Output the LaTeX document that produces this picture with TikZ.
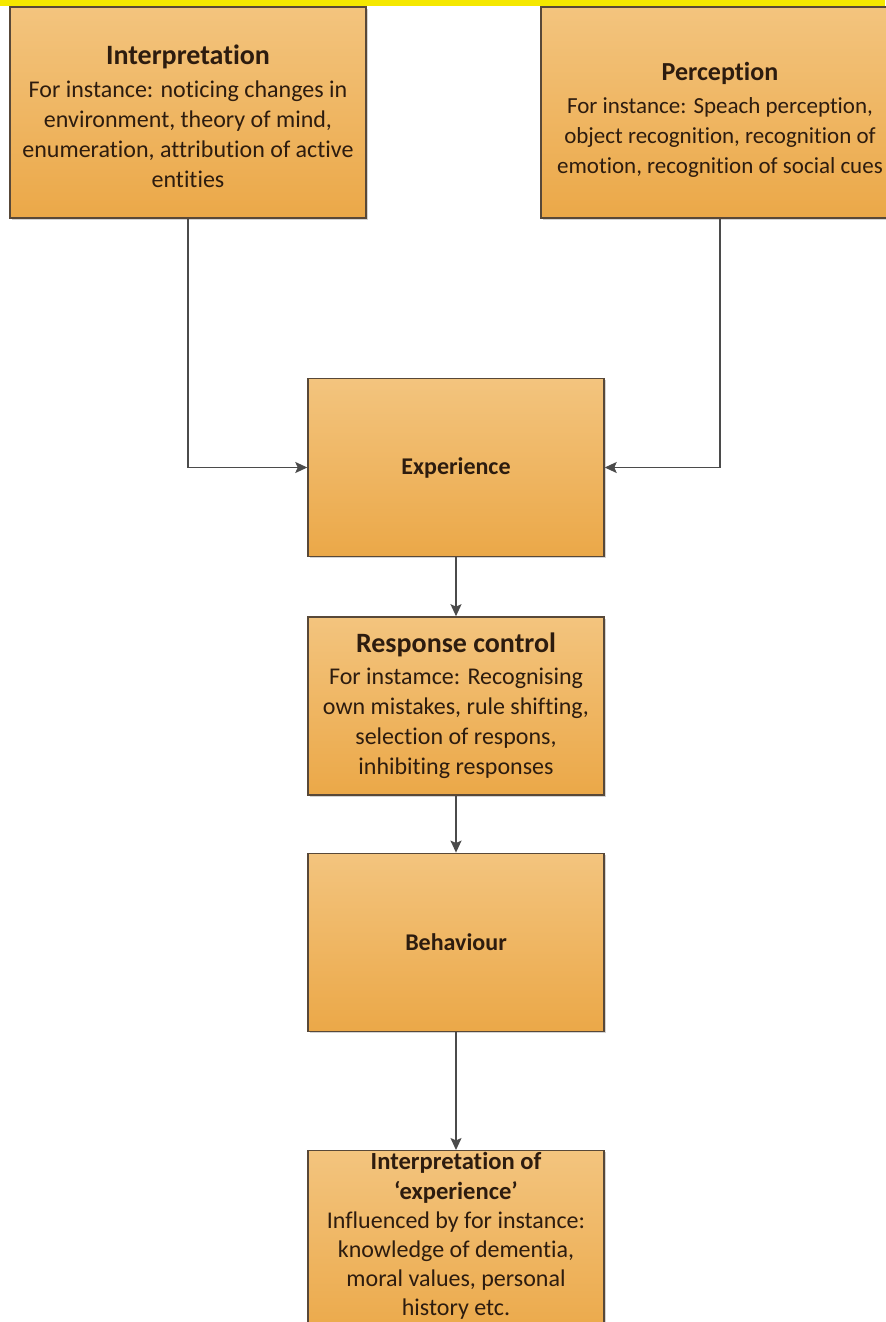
\documentclass[tikz,border=0pt]{standalone}
\usepackage{fontspec}
\setmainfont{Carlito}[RawFeature={-liga;-clig;-calt;-rlig;-dlig}]
\usetikzlibrary{positioning,shadows,arrows.meta}
\definecolor{boxtop}{RGB}{243,196,126}
\definecolor{boxbot}{RGB}{235,168,72}
\definecolor{boxline}{RGB}{88,72,56}
\definecolor{inktext}{RGB}{45,28,15}
\definecolor{wire}{RGB}{75,75,75}
\definecolor{band}{RGB}{245,232,0}
\newcommand{\boxtitle}[1]{{\fontsize{14}{17}\selectfont\bfseries #1}}
\newcommand{\smalltitle}[1]{{\fontsize{12.3}{14.6}\selectfont\bfseries #1}}

\begin{document}
\begin{tikzpicture}[
        x=0.5pt, y=-0.5pt,
        node distance=29.5pt,
        font=\fontsize{12}{15}\selectfont,
        % box styles
        base/.style={rectangle, draw=boxline, line width=0.7pt, top color=boxtop, bottom color=boxbot, text=inktext, align=center, inner sep=1pt, drop shadow={shadow xshift=0.8pt, shadow yshift=-0.8pt, opacity=0.35}},
        source/.style={base, minimum width=178pt, minimum height=105.5pt},
        stage/.style={base, minimum width=148pt, minimum height=89pt},
        arrow/.style={-{Stealth[length=6pt, width=5.5pt, inset=1.2pt]}, line width=0.7pt, draw=wire},
        line/.style={line width=0.7pt, draw=wire}
    ]

    % page and top band
    \useasboundingbox (0,0) rectangle (885,1322);
    \fill[band] (0,0) rectangle (885,6);

    % source boxes
    \node[source] (interp) at (188,112.5) {\rule{0pt}{13.5pt}\boxtitle{Interpretation}\\[1.5pt]For instance: noticing changes in\\environment, theory of mind,\\enumeration, attribution of active\\entities};
    \node[source, minimum width=179pt, font=\fontsize{11.5}{15}\selectfont] (percep) at (720,112.5) {\rule{0pt}{16pt}{\fontsize{13}{16}\selectfont\bfseries Perception}\\[1.5pt]For instance: Speach perception,\\object recognition, recognition of\\emotion, recognition of social cues};

    % main chain
    \node[stage] (exp) at (456,467.5) {\textbf{Experience}};
    \node[stage] (resp) [below=of exp] {\boxtitle{Response control}\\[1pt]For instamce: Recognising\\own mistakes, rule shifting,\\selection of respons,\\inhibiting responses};
    \node[stage] (behav) [below=28.5pt of resp] {\textbf{Behaviour}};
    \node[stage, minimum height=90pt, font=\fontsize{12}{14.6}\selectfont] (outcome) [below=59pt of behav] {\smalltitle{Interpretation of}\\\smalltitle{\textquoteleft experience\textquoteright}\\Influenced by for instance:\\knowledge of dementia,\\moral values, personal\\history etc.\rule[-12pt]{0pt}{0pt}};

    % connectors
    \draw[arrow] (interp.south) |- (exp.west);
    \draw[arrow] (percep.south) |- (exp.east);
    \draw[arrow] (exp.south) -- (resp.north);
    \draw[arrow] (resp.south) -- (behav.north);
    \draw[arrow] (behav.south) -- (outcome.north);

\end{tikzpicture}
\end{document}
